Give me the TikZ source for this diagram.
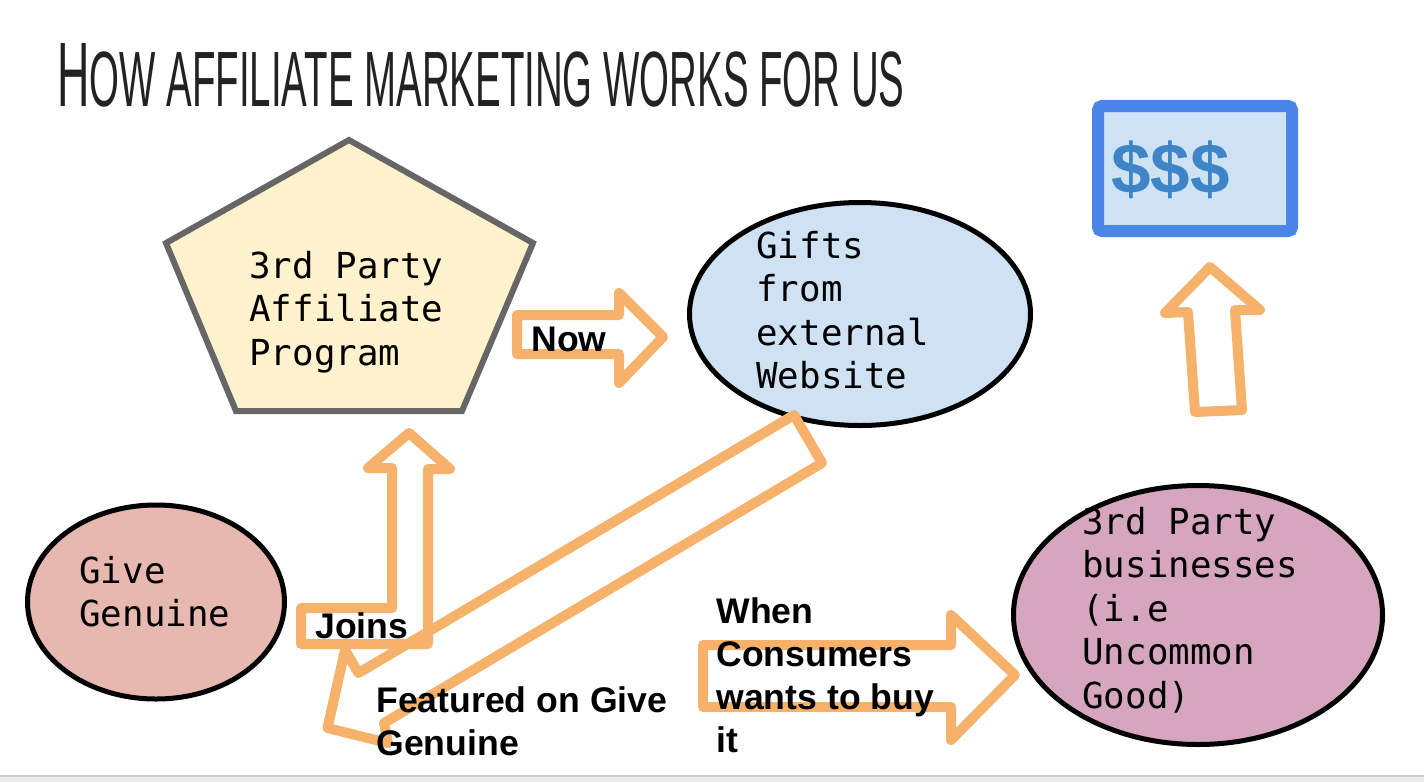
\documentclass[tikz,border=0pt]{standalone}
\usepackage{fontspec}
\setmainfont{Liberation Sans}
\newfontfamily\codefont{DejaVu Sans Mono}
\usepackage{graphicx}
\usetikzlibrary{shapes.geometric}
\definecolor{pentfill}{HTML}{FFF2CC}
\definecolor{pentline}{HTML}{666666}
\definecolor{giftfill}{HTML}{CFE2F3}
\definecolor{givefill}{HTML}{E6B8AF}
\definecolor{bizfill}{HTML}{D5A6BD}
\definecolor{arrorange}{HTML}{F6B26B}
\definecolor{dollarline}{HTML}{4A86E8}
\definecolor{dollarink}{HTML}{3D85C6}
\definecolor{ink}{HTML}{222222}
\tikzset{
  bubble/.style={ellipse, draw=black, line width=2.5pt, inner sep=0pt, fill=#1},
  code/.style={font=\codefont\fontsize{17.9}{21.75}\selectfont, align=left,
               inner sep=0pt, anchor=north west},
  lbl/.style={font=\bfseries\fontsize{17.8}{21.5}\selectfont, align=left,
              inner sep=0pt, anchor=north west},
  blockarr/.style={draw=arrorange, line width=5pt, line join=round}}

\begin{document}
\begin{tikzpicture}[x=0.5pt, y=-0.5pt]
  \useasboundingbox (0,0) rectangle (1424,782);
  \fill[white] (0,0) rectangle (1424,782);
  \fill[black!8] (0,777) rectangle (1424,782);
  \fill[black!20] (0,775) rectangle (1424,777);

  % title
  \node[anchor=base west, inner sep=0pt, text=ink] (title) at (57,106)
    {\resizebox{423.5pt}{31.5pt}{\fontsize{46}{46}\selectfont H\fontsize{39.4}{46}\selectfont OW AFFILIATE MARKETING WORKS FOR US}};

  % shapes
  \draw[pentline, fill=pentfill, line width=3pt]
    (349,140) -- (533,243) -- (462,411) -- (236,411) -- (166,243) -- cycle;
  \node[code] (affil) at (249,247.5) {\strut 3rd Party\\Affiliate\\Program};

  \node[bubble=giftfill, minimum width=170.5pt, minimum height=111.5pt] (gifts) at (860,314) {};
  \node[code] (giftstxt) at (756,227.5) {\strut Gifts\\from\\external\\Website};

  \node[bubble=givefill, minimum width=128.5pt, minimum height=97pt] (give) at (156,602) {};
  \node[code] (givetxt) at (79,552.5) {\strut Give\\Genuine};

  \node[bubble=bizfill, minimum width=184.5pt, minimum height=129.5pt] (biz) at (1198,615) {};
  \node[code] (biztxt) at (1082,503.5) {\strut 3rd Party\\businesses\\(i.e\\Uncommon\\Good)};

  \node[draw=dollarline, line width=6pt, fill=giftfill, rounded corners=2pt,
        minimum width=97pt, minimum height=62.5pt, inner sep=0pt] (money) at (1195,168.5) {};
  \node[font=\bfseries\fontsize{35.5}{40}\selectfont, text=dollarink, anchor=base west,
        inner sep=0pt] (cash) at (1111,193) {\$\$\$};

  % block arrows
  \draw[blockarr] (517,315) -- (619,315) -- (619,293) -- (663,337) -- (619,383)
    -- (619,354) -- (517,354) -- cycle;
  \draw[blockarr] (301,644) -- (301,608) -- (392,608) -- (392,468) -- (368,468)
    -- (409,433) -- (450,469) -- (428,469) -- (428,644) -- cycle;
  \draw[blockarr] (794,415) -- (822,463) -- (384,723) -- (388,743) -- (327.5,728)
    -- (345,650) -- (358.5,673) -- cycle;
  \draw[blockarr] (703,645) -- (951,645) -- (951,615) -- (1015,675) -- (951,740)
    -- (951,707) -- (703,707) -- cycle;
  \draw[blockarr] (1195,412) -- (1188,312) -- (1165,313) -- (1210,267) -- (1260,310)
    -- (1235,310) -- (1242,410) -- cycle;

  % labels
  \node[lbl] (now) at (531,320.9) {\strut Now};
  \node[lbl] (joins) at (315,607.9) {\strut Joins};
  \node[lbl] (featured) at (376,681.9) {\strut Featured on Give\\Genuine};
  \node[lbl] (consumers) at (716,592.9) {\strut When\\Consumers\\wants to buy\\it};
\end{tikzpicture}
\end{document}
